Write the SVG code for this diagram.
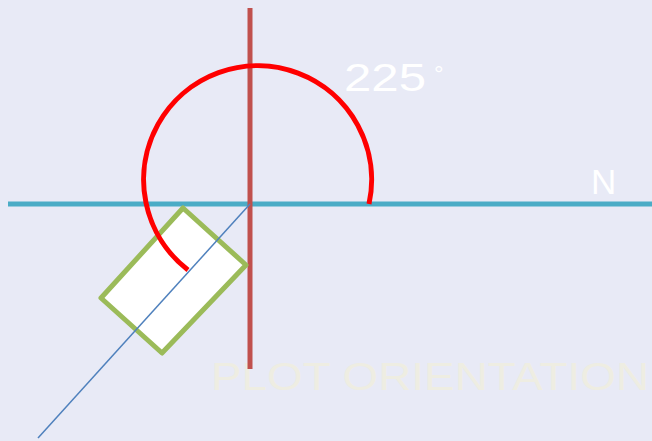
<svg xmlns="http://www.w3.org/2000/svg" width="652" height="441" viewBox="0 0 652 441">
<style>
.lbl{font-family:"Liberation Sans","DejaVu Sans",sans-serif;font-weight:normal}
</style>
<rect width="652" height="441" fill="#E8EAF6"/>
<text class="lbl" x="211" y="390" font-size="38" fill="#EEEDE2" textLength="438" lengthAdjust="spacingAndGlyphs">PLOT ORIENTATION</text>
<g id="axes">
<line x1="8" y1="204" x2="652" y2="204" stroke="#4BACC6" stroke-width="5"/>
<line x1="250" y1="8" x2="250" y2="369" stroke="#C0504D" stroke-width="5"/>
</g>
<g id="plot">
<polygon points="183,208 246,265 162,353 101,298" fill="#FFFFFF" stroke="#9BBB59" stroke-width="5" stroke-linejoin="round"/>
</g>
<g id="connectors">
<path d="M369,204 A114,114 0 1 0 188,270" fill="none" stroke="#FF0000" stroke-width="5"/>
<line x1="250" y1="204" x2="38" y2="438" stroke="#4F81BD" stroke-width="1.5"/>
</g>
<g id="labels">
<text class="lbl" x="344" y="91" font-size="38" fill="#FFFFFF" textLength="82" lengthAdjust="spacingAndGlyphs">225</text>
<text class="lbl" x="434" y="82" font-size="24" fill="#FFFFFF">°</text>
<text class="lbl" x="591" y="194" font-size="35" fill="#FFFFFF">N</text>
</g>
</svg>
